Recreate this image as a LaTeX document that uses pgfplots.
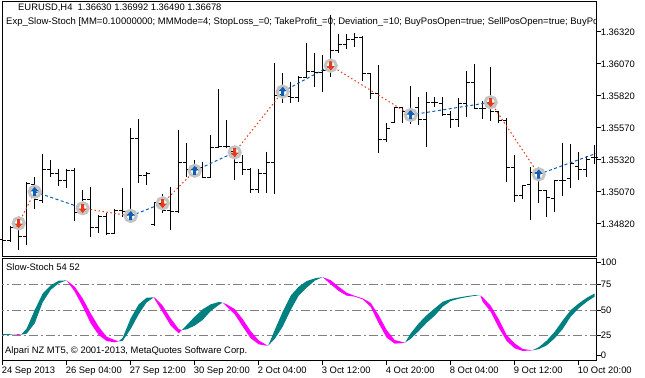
\documentclass[border=0pt]{standalone}
\usepackage{fontspec}
\setmainfont{Liberation Sans}
\usepackage{pgfplots}
\pgfplotsset{compat=1.18}
\usepackage{pgfplotstable}

\definecolor{stTeal}{HTML}{008080}
\definecolor{stMag}{HTML}{FF00FF}
\definecolor{trRed}{HTML}{E43C1A}
\definecolor{trBlue}{HTML}{105EB4}
\definecolor{ringc}{HTML}{C4C4C4}
\definecolor{lvl}{HTML}{808080}

\pgfdeclareplotmark{nomark}{}
\pgfdeclareplotmark{otick}{\pgfpathmoveto{\pgfqpoint{-3.5bp}{0bp}}\pgfpathlineto{\pgfqpoint{0bp}{0bp}}\pgfusepathqstroke}
\pgfdeclareplotmark{ctick}{\pgfpathmoveto{\pgfqpoint{0bp}{0bp}}\pgfpathlineto{\pgfqpoint{3.5bp}{0bp}}\pgfusepathqstroke}
\pgfdeclareplotmark{uparr}{%
 \pgfpathmoveto{\pgfqpoint{0bp}{4.8bp}}\pgfpathlineto{\pgfqpoint{4.2bp}{0.4bp}}%
 \pgfpathlineto{\pgfqpoint{1.5bp}{0.4bp}}\pgfpathlineto{\pgfqpoint{1.5bp}{-4.2bp}}%
 \pgfpathlineto{\pgfqpoint{-1.5bp}{-4.2bp}}\pgfpathlineto{\pgfqpoint{-1.5bp}{0.4bp}}%
 \pgfpathlineto{\pgfqpoint{-4.2bp}{0.4bp}}\pgfpathclose\pgfusepathqfill}
\pgfdeclareplotmark{dnarr}{%
 \pgfpathmoveto{\pgfqpoint{0bp}{-4.8bp}}\pgfpathlineto{\pgfqpoint{4.2bp}{-0.4bp}}%
 \pgfpathlineto{\pgfqpoint{1.5bp}{-0.4bp}}\pgfpathlineto{\pgfqpoint{1.5bp}{4.2bp}}%
 \pgfpathlineto{\pgfqpoint{-1.5bp}{4.2bp}}\pgfpathlineto{\pgfqpoint{-1.5bp}{-0.4bp}}%
 \pgfpathlineto{\pgfqpoint{-4.2bp}{-0.4bp}}\pgfpathclose\pgfusepathqfill}

\pgfplotstableread{
i O H L C
0 1.34695 1.34726 1.34648 1.34690
1 1.34690 1.34804 1.34679 1.34789
2 1.34797 1.34838 1.34617 1.34721
3 1.34721 1.35150 1.34656 1.35133
4 1.35125 1.35185 1.34935 1.35008
5 1.35002 1.35367 1.34986 1.35242
6 1.35242 1.35320 1.35190 1.35216
7 1.35216 1.35252 1.35117 1.35158
8 1.35158 1.35252 1.35101 1.35236
9 1.35236 1.35258 1.34846 1.34908
10 1.34908 1.35086 1.34898 1.35008
11 1.35008 1.35107 1.34716 1.34789
12 1.34789 1.34888 1.34752 1.34875
13 1.34875 1.34908 1.34734 1.34742
14 1.34742 1.34935 1.34740 1.34924
15 1.34924 1.35104 1.34877 1.34916
16 1.34916 1.35568 1.34851 1.35490
17 1.35490 1.35638 1.35143 1.35200
18 1.35200 1.35224 1.35122 1.35211
19 1.34815 1.34990 1.34804 1.34990
20 1.34984 1.35054 1.34906 1.34922
21 1.34922 1.35111 1.34773 1.34918
22 1.34918 1.35554 1.34908 1.35302
23 1.35302 1.35450 1.35187 1.35242
24 1.35242 1.35320 1.35203 1.35265
25 1.35265 1.35307 1.35177 1.35187
26 1.35187 1.35515 1.35177 1.35414
27 1.35414 1.35872 1.35411 1.35429
28 1.35429 1.35633 1.35414 1.35429
29 1.35390 1.35424 1.35164 1.35297
30 1.35297 1.35359 1.35203 1.35242
31 1.35242 1.35255 1.35065 1.35091
32 1.35091 1.35247 1.35065 1.35216
33 1.35216 1.35385 1.35065 1.35299
34 1.35299 1.36075 1.35054 1.35820
35 1.35828 1.35999 1.35765 1.35814
36 1.35814 1.35932 1.35763 1.35812
37 1.35812 1.35976 1.35775 1.35966
38 1.35966 1.36236 1.35958 1.36010
39 1.36010 1.36158 1.35888 1.36000
40 1.36007 1.36140 1.35854 1.36023
41 1.36047 1.36453 1.35971 1.36179
42 1.36179 1.36304 1.36158 1.36226
43 1.36226 1.36304 1.36185 1.36258
44 1.36258 1.36310 1.36200 1.36275
45 1.36275 1.36289 1.35940 1.35992
46 1.35992 1.35997 1.35794 1.35836
47 1.35836 1.36062 1.35377 1.35482
48 1.35482 1.35607 1.35463 1.35568
49 1.35611 1.35736 1.35607 1.35732
50 1.35734 1.35736 1.35611 1.35697
51 1.35695 1.35898 1.35601 1.35711
52 1.35732 1.35810 1.35593 1.35638
53 1.35638 1.35849 1.35419 1.35771
54 1.35771 1.35810 1.35732 1.35768
55 1.35763 1.35810 1.35666 1.35679
56 1.35679 1.35703 1.35568 1.35638
57 1.35638 1.35802 1.35580 1.35758
58 1.35758 1.36015 1.35658 1.35927
59 1.35927 1.36070 1.35716 1.35724
60 1.35724 1.35781 1.35638 1.35724
61 1.35729 1.36044 1.35627 1.35697
62 1.35697 1.35703 1.35607 1.35625
63 1.35625 1.35646 1.35150 1.35263
64 1.35263 1.35359 1.34994 1.35044
65 1.35044 1.35125 1.35015 1.35119
66 1.35125 1.35268 1.34851 1.35226
67 1.35226 1.35268 1.34982 1.35080
68 1.35080 1.35086 1.34872 1.35029
69 1.35023 1.35164 1.34914 1.35156
70 1.35156 1.35455 1.35039 1.35158
71 1.35172 1.35445 1.35104 1.35289
72 1.35268 1.35380 1.35164 1.35247
73 1.35247 1.35351 1.35185 1.35326
74 1.35343 1.35437 1.35289 1.35336
}\ohlc

\pgfplotstableread{
i p
2 1.34826
10 1.34943
20 1.34982
29 1.35380
41 1.36057
61 1.35771
}\sells

\pgfplotstableread{
i p
4 1.35072
16 1.34883
24 1.35236
35 1.35854
51 1.35672
67 1.35208
}\buys

\newcommand{\tf}{\fontsize{9.4bp}{11bp}\selectfont}

\begin{document}
\begin{tikzpicture}
\useasboundingbox (0bp,0bp) rectangle (645bp,-378bp);

\begin{axis}[
  at={(2bp,-1.7bp)}, anchor=north west, scale only axis,
  width=594.7bp, height=255bp,
  xmin=-0.0875, xmax=74.25, ymin=1.345645, ymax=1.365567,
  axis line style={black, line width=1bp},
  xtick=\empty,
  ytick={1.3482,1.3507,1.3532,1.3557,1.3582,1.3607,1.3632},
  scaled y ticks=false,
  ytick pos=right, yticklabel pos=right,
  tick align=outside, major tick length=4bp,
  tick style={black, line width=1bp},
  yticklabel style={/pgf/number format/.cd, fixed, fixed zerofill, precision=5,
     /pgf/number format/assume math mode=true, /tikz/.cd, font=\tf, anchor=west, inner sep=0pt},
  clip=true,
]
% high-low
\addplot[black, line width=1bp, only marks, mark=nomark,
  error bars/.cd, y dir=minus, y explicit, error mark=none,
  error bar style={black, solid, line width=1bp}]
  table[x=i, y=H, y error expr=\thisrow{H}-\thisrow{L}] {\ohlc};
\addplot[black, line width=1bp, only marks, mark=otick] table[x=i, y=O] {\ohlc};
\addplot[black, line width=1bp, only marks, mark=ctick] table[x=i, y=C] {\ohlc};
% trade lines
\addplot[trRed, line width=1bp, dash pattern=on 1.5bp off 2.5bp, unbounded coords=jump] coordinates {
 (2,1.34826) (4,1.35072) (4,nan)
 (10,1.34943) (16,1.34883) (16,nan)
 (20,1.34982) (24,1.35236) (24,nan)
 (29,1.35380) (35,1.35854) (35,nan)
 (41,1.36057) (51,1.35672) (51,nan)
 (61,1.35771) (67,1.35208)};
\addplot[trBlue, line width=1bp, dash pattern=on 3bp off 2.5bp, unbounded coords=jump] coordinates {
 (4,1.35072) (10,1.34943) (10,nan)
 (16,1.34883) (20,1.34982) (20,nan)
 (24,1.35236) (29,1.35380) (29,nan)
 (35,1.35854) (41,1.36057) (41,nan)
 (51,1.35672) (61,1.35771) (61,nan)
 (67,1.35208) (74.2,1.35372)};
% markers
\addplot[only marks, mark=o, mark size=5.6bp, mark options={draw=ringc, line width=3bp}] table[x=i,y=p] {\sells};
\addplot[only marks, mark=o, mark size=5.6bp, mark options={draw=ringc, line width=3bp}] table[x=i,y=p] {\buys};
\addplot[only marks, mark=dnarr, color=trRed] table[x=i,y=p] {\sells};
\addplot[only marks, mark=uparr, color=trBlue] table[x=i,y=p] {\buys};
\end{axis}

\begin{axis}[
  at={(2bp,-258.3bp)}, anchor=north west, scale only axis,
  width=594.7bp, height=102.7bp,
  xmin=-0.0875, xmax=74.25, ymin=0.4, ymax=100.3,
  axis line style={black, line width=1bp},
  xtick={0,8,...,72},
  xticklabels={24 Sep 2013, 26 Sep 04:00, 27 Sep 12:00, 30 Sep 20:00, 2 Oct 04:00, 3 Oct 12:00, 4 Oct 20:00, 8 Oct 04:00, 9 Oct 12:00, 10 Oct 20:00},
  xtick pos=left,
  ytick={6.2,25,50,75,96.4},
  yticklabels={0,25,50,75,100},
  ytick pos=right, yticklabel pos=right,
  tick align=outside, major tick length=4bp,
  tick style={black, line width=1bp},
  xticklabel style={font=\tf, anchor=north west, inner sep=0pt, xshift=-1bp, yshift=-1.5bp},
  yticklabel style={font=\tf, anchor=west, inner sep=0pt},
  clip=true,
]
\addplot[lvl, line width=1bp, dash pattern=on 9bp off 3bp on 2bp off 3bp] coordinates {(-1,25) (75,25)};
\addplot[lvl, line width=1bp, dash pattern=on 9bp off 3bp on 2bp off 3bp] coordinates {(-1,50) (75,50)};
\addplot[lvl, line width=1bp, dash pattern=on 9bp off 3bp on 2bp off 3bp] coordinates {(-1,75) (75,75)};

\addplot[fill=stTeal, draw=none] coordinates {(0,26.6) (1,26.4) (1.3,26.2) (1,25.8) (0,25.6)} -- cycle;
\addplot[fill=stMag, draw=none] coordinates {(1.3,26.2) (2,25.8) (2.3,26) (2,26.5)} -- cycle;
\addplot[fill=stTeal, draw=none] coordinates {(2.3,26) (3,32) (4,50) (5,66) (6,74) (7,78.5) (8,78.8) (7,76) (6,69.6) (5,57.5) (4,37) (3,27)} -- cycle;
\addplot[fill=stMag, draw=none] coordinates {(8,78.8) (9,67.8) (10,53.3) (11,37) (12,25.6) (13,19.8) (14,18.6) (14.5,19.5) (14,20.8) (13,24) (12,33.8) (11,46.8) (10,61.3) (9,72.7)} -- cycle;
\addplot[fill=stTeal, draw=none] coordinates {(14.5,19.5) (15,23) (16,42) (17,55.5) (18,62) (18.9,62.3) (18,57.5) (17,45.8) (16,31.5) (15,20)} -- cycle;
\addplot[fill=stMag, draw=none] coordinates {(18.9,62.3) (19,60.5) (20,47.7) (21,34.8) (22,27.3) (22.4,30.5) (22,31.5) (21,41.9) (20,54.2) (19,62)} -- cycle;
\addplot[fill=stTeal, draw=none] coordinates {(22.4,30.5) (23,35.4) (24,43.5) (25,50.7) (26,55.5) (27,57.8) (27.5,57.2) (27,54.8) (26,49) (25,40.3) (24,34.8) (23,31.2)} -- cycle;
\addplot[fill=stMag, draw=none] coordinates {(27.5,57.2) (28,53.3) (29,45.8) (30,33.8) (31,22.5) (32,16.6) (33,15.3) (33.2,15.5) (33,15.9) (32,20.5) (31,29.5) (30,41.2) (29,51) (28,55.5)} -- cycle;
\addplot[fill=stTeal, draw=none] coordinates {(33.2,15.5) (34,30.5) (35,48.3) (36,64) (37,72.7) (38,78.2) (39,80.8) (40,82) (39,78.5) (38,71.7) (37,64) (36,50) (35,33.8) (34,21.8)} -- cycle;
\addplot[fill=stMag, draw=none] coordinates {(40,82) (41,75) (42,68.5) (43,64) (44,63) (45,60.4) (46,53) (47,37) (48,23) (49,17.3) (50,17.8) (50.3,18.3) (50,18.8) (49,20.8) (48,30.5) (47,45) (46,57) (45,61.3) (44,63.8) (43,66.8) (42,72.7) (41,79)} -- cycle;
\addplot[fill=stTeal, draw=none] coordinates {(50.3,18.3) (51,27.3) (52,37) (53,45) (54,51.6) (55,58) (56,60.7) (57,62.2) (58,63.5) (59,64.5) (59.7,64) (59,63.8) (58,62.5) (57,61) (56,58.7) (55,53.2) (54,44.4) (53,37.6) (52,29.5) (51,22)} -- cycle;
\addplot[fill=stMag, draw=none] coordinates {(59.7,64) (60,58) (61,48.3) (62,32.8) (63,19.8) (64,12.7) (65,10.2) (66,10.6) (66.2,10.8) (66,11) (65,12.1) (64,17.6) (63,25.6) (62,41.2) (61,54.2) (60,62.5)} -- cycle;
\addplot[fill=stTeal, draw=none] coordinates {(66.2,10.8) (67,13.8) (68,20.2) (69,28.9) (70,39.9) (71,49.9) (72,56.4) (73,61.9) (74,66.1) (74,63) (73,58) (72,51.6) (71,43.5) (70,31.5) (69,22.5) (68,15.6) (67,11.9)} -- cycle;
\end{axis}

\begin{scope}
\clip (3bp,-2bp) rectangle (596bp,-30bp);
\node[anchor=base west, inner sep=0pt, font=\tf] at (18bp,-10.8bp) {EURUSD,H4\ \ 1.36630 1.36992 1.36490 1.36678};
\node[anchor=base west, inner sep=0pt, font=\fontsize{9.5bp}{11bp}\selectfont] at (6bp,-24.5bp) {Exp\_Slow-Stoch [MM=0.10000000; MMMode=4; StopLoss\_=0; TakeProfit\_=0; Deviation\_=10; BuyPosOpen=true; SellPosOpen=true; BuyPosClose=true; SellPosClose=true]};
\end{scope}
\node[anchor=base west, inner sep=0pt, font=\tf] at (6bp,-270.8bp) {Slow-Stoch 54 52};
\node[anchor=base west, inner sep=0pt, font=\tf] at (5bp,-353.7bp) {Alpari NZ MT5, © 2001-2013, MetaQuotes Software Corp.};
\end{tikzpicture}
\end{document}
